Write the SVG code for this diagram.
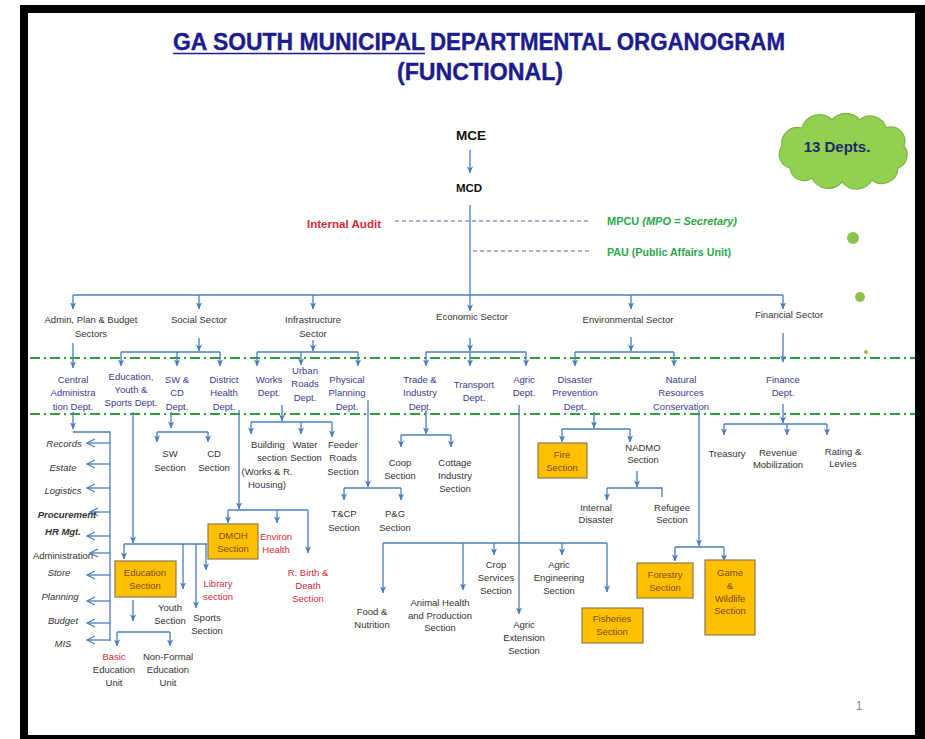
<svg xmlns="http://www.w3.org/2000/svg" width="925" height="739" viewBox="0 0 925 739">
<defs>
<style>
.t{font-family:"Liberation Sans",Arial,sans-serif;font-size:9.5px;fill:#333;text-anchor:middle}
.d{fill:#3b3a8c}
.r{fill:#d42a3a}
.it{font-style:italic}
.b{font-weight:bold}
.bx{fill:#ffc000;stroke:#8c7a4a;stroke-width:1.2}
.bt{fill:#7a4a10}
.c{fill:none;stroke:#4a7ebb;stroke-width:1.3}
.ar{marker-end:url(#ah)}
.la{marker-end:url(#oa)}
.dash{fill:none;stroke:#4f6fa5;stroke-width:1.2;stroke-dasharray:4 3}
.dd{fill:none;stroke:#2e9e3e;stroke-width:2;stroke-dasharray:10 4 2 4}
.g{fill:#2aa84a;font-weight:bold;text-anchor:start}
</style>
<marker id="ah" viewBox="0 0 8 8" refX="7.5" refY="4" markerWidth="7" markerHeight="7" markerUnits="userSpaceOnUse" orient="auto"><path d="M0,0.5 L8,4 L0,7.5 L2,4 Z" fill="#4a7ebb"/></marker>
<marker id="oa" viewBox="0 0 10 10" refX="9" refY="5" markerWidth="10" markerHeight="10" markerUnits="userSpaceOnUse" orient="auto"><path d="M1,1 L9,5 L1,9" fill="none" stroke="#4a7ebb" stroke-width="1.3"/></marker>
</defs>
<rect width="925" height="739" fill="#fff"/>
<rect x="20" y="5" width="905" height="734" fill="#000"/>
<rect x="28" y="13" width="887" height="722" fill="#fff"/>

<g id="title" font-family="'Liberation Sans',Arial,sans-serif" font-weight="bold" fill="#1c1c8c" font-size="24" stroke="#1c1c8c" stroke-width="0.4">
<text x="173" y="50" textLength="252" lengthAdjust="spacingAndGlyphs">GA SOUTH MUNICIPAL</text>
<line x1="173" y1="53.5" x2="425" y2="53.5" stroke="#1c1c8c" stroke-width="1.6"/>
<text x="430" y="50" textLength="355" lengthAdjust="spacingAndGlyphs">DEPARTMENTAL ORGANOGRAM</text>
<text x="397" y="80" textLength="166" lengthAdjust="spacingAndGlyphs">(FUNCTIONAL)</text>
</g>

<g id="cloud">
<path d="M790,168 a14,14 0 0 1 -8,-22 a16,16 0 0 1 20,-18 a18,18 0 0 1 30,-8 a18,18 0 0 1 28,0 a16,16 0 0 1 26,8 a14,14 0 0 1 18,18 a14,14 0 0 1 -6,22 a16,16 0 0 1 -26,12 a18,18 0 0 1 -30,2 a18,18 0 0 1 -30,-4 a14,14 0 0 1 -22,-10 Z" fill="#92d050" stroke="#7cb342" stroke-width="1.2"/>
<text x="837" y="152" font-family="'Liberation Sans',Arial,sans-serif" font-size="15" font-weight="bold" fill="#1f2a6b" text-anchor="middle">13 Depts.</text>
</g>
<g id="dots" fill="#8bc34a">
<circle cx="853" cy="238" r="6"/>
<circle cx="860" cy="297" r="5"/>
<circle cx="866" cy="352" r="2"/>
</g>

<g id="sep">
<line class="dd" x1="30" y1="358" x2="915" y2="358"/>
<line class="dd" x1="30" y1="414" x2="915" y2="414"/>
</g>

<g id="connectors">
<path class="c ar" d="M470,150 V173"/>
<path class="c" d="M470,205 V295 M73,295 H783"/>
<path class="dash" d="M395,221 H589 M473,251 H590"/>
<path class="c ar" d="M73,295 V309"/>
<path class="c ar" d="M199,295 V309"/>
<path class="c ar" d="M313,295 V309"/>
<path class="c ar" d="M470,295 V311"/>
<path class="c ar" d="M631,295 V309"/>
<path class="c ar" d="M783,295 V309"/>

<path class="c ar" d="M73,343 V368"/>
<path class="c ar" d="M199,338 V351"/>
<path class="c" d="M121,352 H220"/>
<path class="c ar" d="M121,352 V366"/>
<path class="c ar" d="M177,352 V366"/>
<path class="c ar" d="M220,352 V366"/>
<path class="c ar" d="M313,340 V351"/>
<path class="c" d="M257,352 H358"/>
<path class="c ar" d="M257,352 V366"/>
<path class="c ar" d="M301,352 V365"/>
<path class="c ar" d="M358,352 V366"/>
<path class="c ar" d="M470,338 V351"/>
<path class="c" d="M426,352 H526"/>
<path class="c ar" d="M426,352 V366"/>
<path class="c ar" d="M470,352 V366"/>
<path class="c ar" d="M526,352 V366"/>
<path class="c ar" d="M631,337 V351"/>
<path class="c" d="M575,352 H674"/>
<path class="c ar" d="M575,352 V366"/>
<path class="c ar" d="M674,352 V366"/>
<path class="c ar" d="M783,333 V362"/>

<path class="c ar" d="M73,412 V429"/>
<path class="c" d="M73,432 H110 V641"/>
<path class="c la" d="M110,443 H87"/>
<path class="c la" d="M110,464 H87"/>
<path class="c la" d="M110,488 H87"/>
<path class="c la" d="M110,512 H90"/>
<path class="c la" d="M110,536 H87"/>
<path class="c la" d="M110,553 H90"/>
<path class="c la" d="M110,575 H87"/>
<path class="c la" d="M110,601 H87"/>
<path class="c la" d="M110,623 H87"/>
<path class="c la" d="M110,640 H87"/>

<path class="c ar" d="M133,412 V543"/>
<path class="c" d="M124,544 H207"/>
<path class="c ar" d="M124,544 V559"/>
<path class="c ar" d="M183,544 V589"/>
<path class="c ar" d="M196,544 V608"/>
<path class="c ar" d="M206,544 V570"/>
<path class="c ar" d="M133,600 V621"/>
<path class="c" d="M117,632 H170"/>
<path class="c ar" d="M117,632 V646"/>
<path class="c ar" d="M170,632 V646"/>

<path class="c ar" d="M171,412 V428"/>
<path class="c" d="M157,432 H208"/>
<path class="c ar" d="M157,432 V442"/>
<path class="c ar" d="M208,432 V442"/>

<path class="c ar" d="M239,410 V509"/>
<path class="c" d="M228,510 H308"/>
<path class="c ar" d="M228,510 V523"/>
<path class="c ar" d="M277,510 V523"/>
<path class="c ar" d="M308,510 V553"/>

<path class="c ar" d="M282,405 V421"/>
<path class="c" d="M251,422 H332"/>
<path class="c ar" d="M251,422 V434"/>
<path class="c ar" d="M301,422 V434"/>
<path class="c ar" d="M332,422 V437"/>

<path class="c ar" d="M368,400 V487"/>
<path class="c" d="M344,488 H401"/>
<path class="c ar" d="M344,488 V500"/>
<path class="c ar" d="M401,488 V500"/>

<path class="c ar" d="M426,410 V434"/>
<path class="c" d="M401,435 H451"/>
<path class="c ar" d="M401,435 V447"/>
<path class="c ar" d="M451,435 V447"/>

<path class="c ar" d="M519,405 V614"/>
<path class="c" d="M383,543 H607"/>
<path class="c ar" d="M383,543 V593"/>
<path class="c ar" d="M463,543 V590"/>
<path class="c ar" d="M494,543 V555"/>
<path class="c ar" d="M562,543 V555"/>
<path class="c ar" d="M607,543 V592"/>

<path class="c ar" d="M594,412 V428"/>
<path class="c" d="M562,429 H630"/>
<path class="c ar" d="M562,429 V442"/>
<path class="c ar" d="M630,429 V442"/>
<path class="c ar" d="M637,471 V487"/>
<path class="c" d="M607,488 H662 V497"/>
<path class="c ar" d="M607,488 V500"/>

<path class="c ar" d="M699,410 V546"/>
<path class="c" d="M675,547 H724"/>
<path class="c ar" d="M675,547 V561"/>
<path class="c ar" d="M724,547 V561"/>

<path class="c ar" d="M783,404 V423"/>
<path class="c" d="M724,424 H827"/>
<path class="c ar" d="M724,424 V435"/>
<path class="c ar" d="M787,424 V435"/>
<path class="c ar" d="M827,424 V435"/>
</g>

<g id="mce"><text class="t b" x="471" y="140" style="font-size:13.5px;fill:#111">MCE</text></g>
<g id="mcd"><text class="t b" x="469" y="192" style="font-size:11.5px;fill:#111">MCD</text></g>
<g id="audit"><text class="t b r" x="344" y="228" style="font-size:11.5px" textLength="74" lengthAdjust="spacingAndGlyphs">Internal Audit</text></g>
<g id="mpcu"><text class="t g" x="607" y="225" style="font-size:10.5px" textLength="130" lengthAdjust="spacingAndGlyphs">MPCU  <tspan font-style="italic">(MPO = Secretary)</tspan></text></g>
<g id="pau"><text class="t g" x="607" y="256" style="font-size:10.5px" textLength="124" lengthAdjust="spacingAndGlyphs">PAU (Public Affairs Unit)</text></g>

<g id="sec-admin"><text class="t"><tspan x="91" y="323">Admin, Plan &amp; Budget</tspan><tspan x="91" y="337">Sectors</tspan></text></g>
<g id="sec-social"><text class="t" x="199" y="323">Social Sector</text></g>
<g id="sec-infra"><text class="t"><tspan x="313" y="323">Infrastructure</tspan><tspan x="313" y="337">Sector</tspan></text></g>
<g id="sec-econ"><text class="t" x="472" y="320">Economic Sector</text></g>
<g id="sec-env"><text class="t" x="628" y="323">Environmental Sector</text></g>
<g id="sec-fin"><text class="t" x="789" y="318">Financial Sector</text></g>

<g id="dept-central"><text class="t d"><tspan x="73" y="383">Central</tspan><tspan x="73" y="396">Administra</tspan><tspan x="73" y="410">tion Dept.</tspan></text></g>
<g id="dept-edu"><text class="t d"><tspan x="131" y="380">Education,</tspan><tspan x="131" y="393">Youth &amp;</tspan><tspan x="131" y="406">Sports Dept.</tspan></text></g>
<g id="dept-swcd"><text class="t d"><tspan x="177" y="383">SW &amp;</tspan><tspan x="177" y="396">CD</tspan><tspan x="177" y="410">Dept.</tspan></text></g>
<g id="dept-health"><text class="t d"><tspan x="224" y="383">District</tspan><tspan x="224" y="396">Health</tspan><tspan x="224" y="410">Dept.</tspan></text></g>
<g id="dept-works"><text class="t d"><tspan x="269" y="383">Works</tspan><tspan x="269" y="396">Dept.</tspan></text></g>
<g id="dept-urban"><text class="t d"><tspan x="305" y="374">Urban</tspan><tspan x="305" y="387">Roads</tspan><tspan x="305" y="401">Dept.</tspan></text></g>
<g id="dept-physical"><text class="t d"><tspan x="347" y="383">Physical</tspan><tspan x="347" y="396">Planning</tspan><tspan x="347" y="410">Dept.</tspan></text></g>
<g id="dept-trade"><text class="t d"><tspan x="420" y="383">Trade &amp;</tspan><tspan x="420" y="396">Industry</tspan><tspan x="420" y="410">Dept.</tspan></text></g>
<g id="dept-transport"><text class="t d"><tspan x="474" y="388">Transport</tspan><tspan x="474" y="401">Dept.</tspan></text></g>
<g id="dept-agric"><text class="t d"><tspan x="524" y="383">Agric</tspan><tspan x="524" y="396">Dept.</tspan></text></g>
<g id="dept-disaster"><text class="t d"><tspan x="575" y="383">Disaster</tspan><tspan x="575" y="396">Prevention</tspan><tspan x="575" y="410">Dept.</tspan></text></g>
<g id="dept-natural"><text class="t d"><tspan x="681" y="383">Natural</tspan><tspan x="681" y="396">Resources</tspan><tspan x="681" y="410">Conservation</tspan></text></g>
<g id="dept-finance"><text class="t d"><tspan x="783" y="383">Finance</tspan><tspan x="783" y="396">Dept.</tspan></text></g>

<g id="admin-list">
<text class="t it" x="64" y="447">Records</text>
<text class="t it" x="63" y="471">Estate</text>
<text class="t it" x="63" y="494">Logistics</text>
<text class="t it b" x="67" y="518">Procurement</text>
<text class="t it b" x="63" y="535">HR Mgt.</text>
<text class="t" x="63" y="559">Administration</text>
<text class="t it" x="59" y="576">Store</text>
<text class="t it" x="60" y="600">Planning</text>
<text class="t it" x="63" y="624">Budget</text>
<text class="t it" x="63" y="647">MIS</text>
</g>

<g id="sw-section"><text class="t"><tspan x="170" y="457">SW</tspan><tspan x="170" y="471">Section</tspan></text></g>
<g id="cd-section"><text class="t"><tspan x="214" y="457">CD</tspan><tspan x="214" y="471">Section</tspan></text></g>
<g id="building"><text class="t"><tspan x="268" y="448">Building</tspan><tspan x="272" y="461">section</tspan><tspan x="267" y="475">(Works &amp; R.</tspan><tspan x="267" y="488">Housing)</tspan></text></g>
<g id="water"><text class="t"><tspan x="305" y="448">Water</tspan><tspan x="306" y="461">Section</tspan></text></g>
<g id="feeder"><text class="t"><tspan x="343" y="448">Feeder</tspan><tspan x="343" y="461">Roads</tspan><tspan x="343" y="475">Section</tspan></text></g>
<g id="tcp"><text class="t"><tspan x="344" y="517">T&amp;CP</tspan><tspan x="344" y="531">Section</tspan></text></g>
<g id="pg"><text class="t"><tspan x="395" y="517">P&amp;G</tspan><tspan x="395" y="531">Section</tspan></text></g>
<g id="coop"><text class="t"><tspan x="400" y="466">Coop</tspan><tspan x="400" y="479">Section</tspan></text></g>
<g id="cottage"><text class="t"><tspan x="455" y="466">Cottage</tspan><tspan x="455" y="479">Industry</tspan><tspan x="455" y="492">Section</tspan></text></g>
<g id="fire"><rect class="bx" x="538" y="443" width="49" height="35"/><text class="t bt"><tspan x="562" y="458">Fire</tspan><tspan x="562" y="471">Section</tspan></text></g>
<g id="nadmo"><text class="t"><tspan x="643" y="451">NADMO</tspan><tspan x="643" y="463">Section</tspan></text></g>
<g id="internal"><text class="t"><tspan x="596" y="511">Internal</tspan><tspan x="596" y="523">Disaster</tspan></text></g>
<g id="refugee"><text class="t"><tspan x="672" y="511">Refugee</tspan><tspan x="672" y="523">Section</tspan></text></g>
<g id="treasury"><text class="t" x="727" y="457">Treasury</text></g>
<g id="revenue"><text class="t"><tspan x="778" y="456">Revenue</tspan><tspan x="778" y="468">Mobilization</tspan></text></g>
<g id="rating"><text class="t"><tspan x="843" y="455">Rating &amp;</tspan><tspan x="843" y="467">Levies</tspan></text></g>

<g id="education"><rect class="bx" x="115" y="561" width="61" height="36"/><text class="t bt"><tspan x="145" y="576">Education</tspan><tspan x="145" y="589">Section</tspan></text></g>
<g id="youth"><text class="t"><tspan x="170" y="611">Youth</tspan><tspan x="170" y="624">Section</tspan></text></g>
<g id="sports"><text class="t"><tspan x="207" y="621">Sports</tspan><tspan x="207" y="634">Section</tspan></text></g>
<g id="library"><text class="t r"><tspan x="218" y="587">Library</tspan><tspan x="218" y="600">section</tspan></text></g>
<g id="basic"><text class="t"><tspan x="114" y="660" class="r">Basic</tspan><tspan x="114" y="673">Education</tspan><tspan x="114" y="686">Unit</tspan></text></g>
<g id="nonformal"><text class="t"><tspan x="168" y="660">Non-Formal</tspan><tspan x="168" y="673">Education</tspan><tspan x="168" y="686">Unit</tspan></text></g>
<g id="dmoh"><rect class="bx" x="208" y="524" width="50" height="35"/><text class="t bt"><tspan x="233" y="539">DMOH</tspan><tspan x="233" y="552">Section</tspan></text></g>
<g id="environ"><text class="t r"><tspan x="276" y="540">Environ</tspan><tspan x="276" y="553">Health</tspan></text></g>
<g id="birth"><text class="t r"><tspan x="308" y="576">R. Birth &amp;</tspan><tspan x="308" y="589">Death</tspan><tspan x="308" y="602">Section</tspan></text></g>

<g id="food"><text class="t"><tspan x="372" y="615">Food &amp;</tspan><tspan x="372" y="628">Nutrition</tspan></text></g>
<g id="animal"><text class="t"><tspan x="440" y="606">Animal Health</tspan><tspan x="440" y="619">and Production</tspan><tspan x="440" y="631">Section</tspan></text></g>
<g id="crop"><text class="t"><tspan x="496" y="568">Crop</tspan><tspan x="496" y="581">Services</tspan><tspan x="496" y="594">Section</tspan></text></g>
<g id="agric-eng"><text class="t"><tspan x="559" y="568">Agric</tspan><tspan x="559" y="581">Engineering</tspan><tspan x="559" y="594">Section</tspan></text></g>
<g id="extension"><text class="t"><tspan x="524" y="628">Agric</tspan><tspan x="524" y="641">Extension</tspan><tspan x="524" y="654">Section</tspan></text></g>
<g id="fisheries"><rect class="bx" x="582" y="608" width="61" height="35"/><text class="t bt"><tspan x="612" y="622">Fisheries</tspan><tspan x="612" y="635">Section</tspan></text></g>
<g id="forestry"><rect class="bx" x="637" y="563" width="56" height="35"/><text class="t bt"><tspan x="665" y="578">Forestry</tspan><tspan x="665" y="591">Section</tspan></text></g>
<g id="game"><rect class="bx" x="705" y="560" width="50" height="75"/><text class="t bt"><tspan x="730" y="576">Game</tspan><tspan x="730" y="589">&amp;</tspan><tspan x="730" y="602">Wildlife</tspan><tspan x="730" y="614">Section</tspan></text></g>

<g id="page"><text class="t" x="859" y="710" style="font-size:12px;fill:#888">1</text></g>
</svg>
